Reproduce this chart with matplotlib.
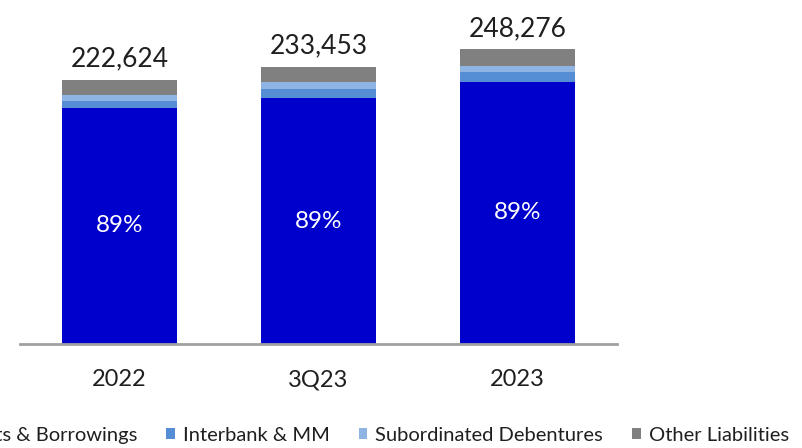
import matplotlib.pyplot as plt
from matplotlib.patches import Patch

plt.rcParams["font.family"] = ["Lato", "DejaVu Sans"]

periods = ["2022", "3Q23", "2023"]
totals = [222624, 233453, 248276]
deposits = [199014, 207303, 220946]
interbank = [5900, 7850, 8430]
subordinated = [5060, 5300, 4800]
other = [12650, 13000, 14100]
series_names = ["Deposits & Borrowings", "Interbank & MM", "Subordinated Debentures", "Other Liabilities"]
colors = ["#0000CC", "#558ED5", "#8DB4E2", "#808080"]
TEXT = "#1f1f1f"

fig = plt.figure(figsize=(8.02, 4.48), dpi=100)
ax = fig.add_axes([20 / 802, 104 / 448, 597 / 802, 344 / 448])

x = list(range(len(periods)))
width = 0.573
bottom = [0] * len(periods)
for values, color in zip([deposits, interbank, subordinated, other], colors):
    ax.bar(x, values, width, bottom=bottom, color=color, edgecolor="none")
    bottom = [b + v for b, v in zip(bottom, values)]

for i in x:
    share = deposits[i] / totals[i]
    ax.text(i, deposits[i] / 2, f"{share:.0%}", ha="center", va="center",
            color="white", fontsize=17.5)
    ax.text(i, totals[i] + 7000, f"{totals[i]:,}", ha="center", va="bottom",
            color=TEXT, fontsize=19)

ax.set_xlim(-0.5, 2.5)
ax.set_ylim(0, 290000)
ax.set_xticks(x)
ax.set_xticklabels(periods, fontsize=17, color=TEXT)
ax.tick_params(axis="x", length=0, pad=18)
ax.set_yticks([])
for side in ["top", "left", "right"]:
    ax.spines[side].set_visible(False)
ax.spines["bottom"].set_color("#A0A0A0")
ax.spines["bottom"].set_linewidth(2)

handles = [Patch(facecolor=c, edgecolor="none") for c in colors]
fig.legend(handles, series_names, loc="center right", bbox_to_anchor=(789 / 802, 1 - 435 / 448),
           ncol=4, frameon=False, fontsize=14.5, handlelength=0.42, handleheight=0.42,
           handletextpad=0.4, columnspacing=1.45, borderaxespad=0, borderpad=0,
           labelcolor=TEXT)

fig.savefig("out.png", dpi=100)
